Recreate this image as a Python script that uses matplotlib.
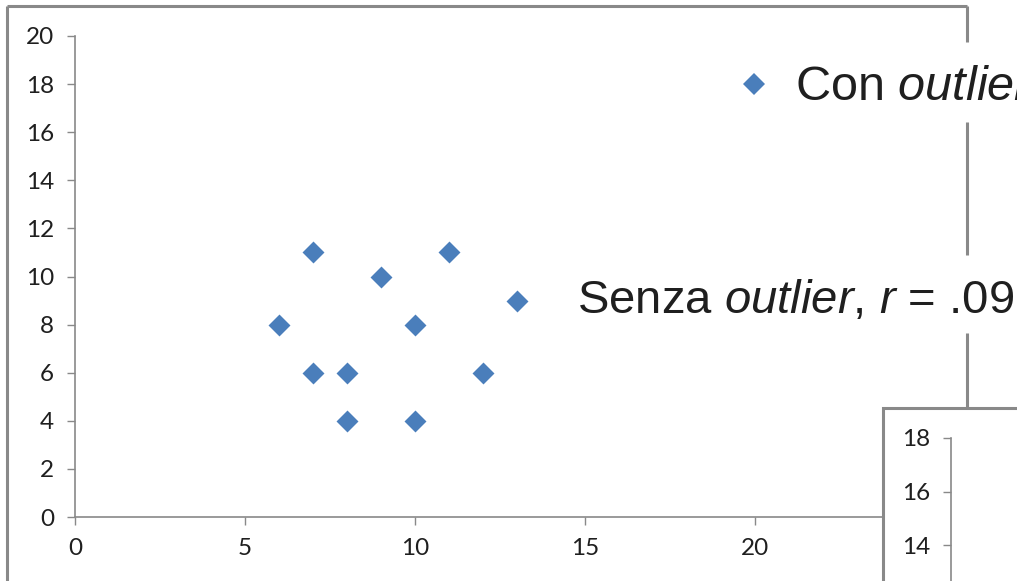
import matplotlib
matplotlib.use("Agg")
import matplotlib.pyplot as plt
from matplotlib.lines import Line2D
from matplotlib.patches import Rectangle

# data
x_vals = [6, 7, 7, 8, 8, 9, 10, 10, 11, 12, 13]
y_vals = [8, 11, 6, 6, 4, 10, 8, 4, 11, 6, 9]
x_ticks = [0, 5, 10, 15, 20]
y_ticks = [0, 2, 4, 6, 8, 10, 12, 14, 16, 18, 20]
inset_ticks = [14, 16, 18]
label_con = "Con $\\mathit{outlier}$"
label_senza = "Senza $\\mathit{outlier}$, $\\mathit{r}$ = .09"

W, H = 1017, 581
BLUE = "#4A7EBB"
GRAY = "#898989"
TXT = "#1f1f1f"

plt.rcParams["mathtext.fontset"] = "custom"
plt.rcParams["mathtext.rm"] = "Liberation Sans"
plt.rcParams["mathtext.it"] = "Liberation Sans:italic"


def fx(px):
    return px / W


def fy(py):
    return 1 - py / H


def style_axis(a):
    for s in ["top", "right"]:
        a.spines[s].set_visible(False)
    for s in ["left", "bottom"]:
        a.spines[s].set_color(GRAY)
        a.spines[s].set_linewidth(1.2)
    a.tick_params(direction="out", length=6, width=1.0, color=GRAY,
                  labelcolor=TXT, labelsize=17.5, pad=9)
    for lab in a.get_xticklabels() + a.get_yticklabels():
        lab.set_fontfamily("Lato")


fig = plt.figure(figsize=(W / 100, H / 100), dpi=100)

# ---- main scatter ----
ax = fig.add_axes([fx(75), fy(517), 850 / W, 481 / H])
ax.scatter(x_vals, y_vals, marker="D", s=125, color=BLUE, linewidths=0, zorder=3)
ax.set_xlim(0, 25)
ax.set_ylim(0, 20)
ax.set_xticks(x_ticks)
ax.set_yticks(y_ticks)
style_axis(ax)
ax.spines["left"].set_bounds(0, 20)

# ---- outer frame (broken where the labels sit) ----
frame = dict(color=GRAY, lw=2.2, solid_capstyle="butt")
fig.add_artist(Line2D([fx(7), fx(7)], [fy(6), fy(600)], **frame))
fig.add_artist(Line2D([fx(7), fx(967)], [fy(6), fy(6)], **frame))
for top, bot in [(6, 42), (122, 255), (333, 408)]:
    fig.add_artist(Line2D([fx(967), fx(967)], [fy(top), fy(bot)], **frame))

# ---- labels ----
fig.add_artist(Line2D([fx(754)], [fy(84)], marker="D", ms=11.5, color=BLUE,
                      mew=0, ls="none"))
fig.text(fx(795), fy(100), label_con, fontsize=35, color=TXT,
         family="Liberation Sans", va="baseline")
fig.text(fx(577), fy(313), label_senza, fontsize=34, color=TXT,
         family="Liberation Sans", va="baseline")

# ---- second chart peeking in at bottom right ----
box = Rectangle((fx(883), fy(650)), 0.3, (650 - 408) / H, transform=fig.transFigure,
                facecolor="white", edgecolor=GRAY, lw=2.2, zorder=2)
fig.add_artist(box)
ax2 = fig.add_axes([fx(951), fy(581), 100 / W, (581 - 438) / H], zorder=3)
ax2.patch.set_alpha(0)
ax2.set_ylim(18 - (581 - 438) / 26.75, 18)
ax2.set_yticks(inset_ticks)
ax2.set_xticks([])
style_axis(ax2)
ax2.spines["bottom"].set_visible(False)
ax2.spines["left"].set_bounds(ax2.get_ylim()[0], 18)

fig.savefig("out.png", dpi=100)
